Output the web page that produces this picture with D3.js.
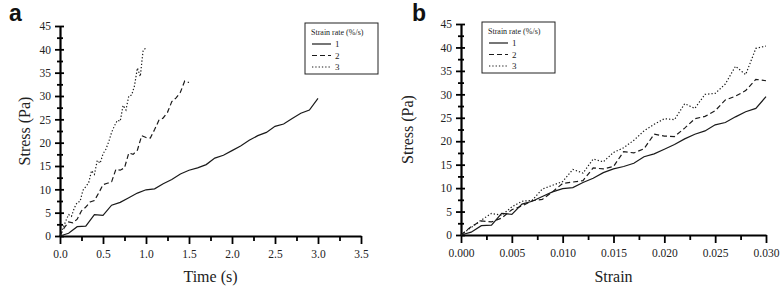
<!DOCTYPE html>
<html>
<head>
<meta charset="utf-8">
<script src="https://cdn.jsdelivr.net/npm/d3@7"></script>
<style>
	body { margin: 0; background: #fff; }
	svg { display: block; }
</style>
</head>
<body>
<svg id="chart"></svg>
<script>
// strain sampled every 0.001 (all three rates)
let strain = [0, 0.001, 0.002, 0.003, 0.004, 0.005, 0.006, 0.007, 0.008, 0.009, 0.010,
	0.011, 0.012, 0.013, 0.014, 0.015, 0.016, 0.017, 0.018, 0.019, 0.020,
	0.021, 0.022, 0.023, 0.024, 0.025, 0.026, 0.027, 0.028, 0.029, 0.030];

let stress1 = [0, 0.6, 2.0, 2.1, 4.6, 4.4, 6.6, 7.2, 8.2, 9.2, 9.9,
	10.1, 11.2, 12.1, 13.3, 14.1, 14.6, 15.3, 16.7, 17.3, 18.3,
	19.3, 20.5, 21.5, 22.2, 23.5, 24.0, 25.2, 26.3, 27.0, 29.5];
let stress2 = [0, 1.8, 3.0, 2.8, 3.6, 5.4, 6.2, 7.3, 7.6, 9.2, 11.0,
	11.3, 11.6, 14.3, 14.1, 14.6, 17.8, 17.5, 18.4, 21.5, 21.1,
	21.0, 22.8, 24.8, 25.3, 26.5, 28.8, 29.6, 30.8, 33.2, 32.9];
let stress3 = [0, 1.6, 3.2, 4.6, 4.2, 6.0, 7.2, 7.4, 9.8, 10.6, 11.4,
	14.0, 13.2, 16.2, 15.6, 17.6, 18.6, 20.2, 22.2, 23.6, 24.8,
	24.6, 28.0, 27.0, 30.0, 30.2, 32.2, 36.0, 34.2, 39.8, 40.3];

let rates = [1, 2, 3]; // %/s
let rateLabels = ['1', '2', '3'];
let dashes = ['none', '5,3', '1.3,2'];

let timeTicks = [0, 0.5, 1.0, 1.5, 2.0, 2.5, 3.0, 3.5];
let strainTicks = [0, 0.005, 0.010, 0.015, 0.020, 0.025, 0.030];
let stressTicks = [0, 5, 10, 15, 20, 25, 30, 35, 40, 45];

let w = 780;
let h = 287;
let serif = '"Liberation Serif", "DejaVu Serif", serif';

let svg = d3.select('#chart')
	.attr('width', w)
	.attr('height', h)
	.attr('font-family', serif);

function drawPanel(opt) {
	let xScale = d3.scaleLinear()
		.domain(opt.xDomain)
		.range([opt.left, opt.right]);
	let yScale = d3.scaleLinear()
		.domain([0, 45])
		.range([opt.bottom, opt.top]);

	let g = svg.append('g');

	// minor ticks (halfway between majors)
	let xMinor = d3.range(opt.xDomain[0] + opt.xStep / 2, opt.xDomain[1], opt.xStep);
	let yMinor = d3.range(2.5, 45, 5);

	g.append('g')
		.attr('transform', `translate(0,${opt.bottom})`)
		.call(d3.axisBottom(xScale).tickValues(opt.xTicks).tickSizeInner(8).tickSizeOuter(0)
			.tickPadding(6).tickFormat(d3.format(opt.xFormat)));
	g.append('g')
		.attr('transform', `translate(0,${opt.bottom})`)
		.call(d3.axisBottom(xScale).tickValues(xMinor).tickSize(5).tickFormat(''))
		.call(s => s.select('.domain').remove());

	g.append('g')
		.attr('transform', `translate(${opt.left},0)`)
		.call(d3.axisLeft(yScale).tickValues(stressTicks).tickSizeInner(5).tickSizeOuter(0).tickPadding(4));
	g.append('g')
		.attr('transform', `translate(${opt.left},0)`)
		.call(d3.axisLeft(yScale).tickValues(stressTicks).tickSize(-4).tickFormat(''))
		.call(s => s.select('.domain').remove());
	g.append('g')
		.attr('transform', `translate(${opt.left},0)`)
		.call(d3.axisLeft(yScale).tickValues(yMinor).tickSize(3).tickFormat(''))
		.call(s => s.select('.domain').remove());
	g.append('g')
		.attr('transform', `translate(${opt.left},0)`)
		.call(d3.axisLeft(yScale).tickValues(yMinor).tickSize(-3).tickFormat(''))
		.call(s => s.select('.domain').remove());

	g.selectAll('g').attr('font-family', serif).attr('font-size', 11.5);
	g.selectAll('.domain').attr('stroke', '#000').attr('stroke-width', 2.2);
	g.selectAll('.tick line').attr('stroke', '#000').attr('stroke-width', 1.8);
	g.selectAll('.tick text').attr('fill', '#222');

	// axis titles
	g.append('text')
		.attr('x', (opt.left + opt.right) / 2)
		.attr('y', 282)
		.attr('text-anchor', 'middle')
		.attr('font-size', 16)
		.attr('fill', '#222')
		.text(opt.xTitle);
	g.append('text')
		.attr('transform', `translate(${opt.yTitleX},${(opt.top + opt.bottom) / 2}) rotate(-90)`)
		.attr('text-anchor', 'middle')
		.attr('font-size', 16)
		.attr('fill', '#222')
		.text('Stress (Pa)');

	// panel letter
	g.append('text')
		.attr('x', opt.letterX)
		.attr('y', 21)
		.attr('font-family', '"Liberation Sans", Arial, sans-serif')
		.attr('font-weight', 'bold')
		.attr('font-size', 23)
		.attr('fill', '#111')
		.text(opt.letter);

	// lines
	let series = [stress1, stress2, stress3];
	let line = d3.line()
		.x(d => xScale(d[0]))
		.y(d => yScale(d[1]));
	series.forEach((s, i) => {
		let pts = strain.map((e, j) => [opt.xOf(e, rates[i]), s[j]]);
		g.append('path')
			.datum(pts)
			.attr('d', line)
			.attr('fill', 'none')
			.attr('stroke', '#1a1a1a')
			.attr('stroke-width', 1.2)
			.attr('stroke-dasharray', dashes[i]);
	});

	// legend
	let lg = g.append('g').attr('transform', `translate(${opt.legend[0]},${opt.legend[1]})`);
	lg.append('rect')
		.attr('width', 73)
		.attr('height', 51)
		.attr('fill', '#fff')
		.attr('stroke', '#222')
		.attr('stroke-width', 1);
	lg.append('text')
		.attr('x', 6)
		.attr('y', 12)
		.attr('font-size', 8)
		.attr('fill', '#222')
		.text('Strain rate (%/s)');
	rateLabels.forEach((r, i) => {
		let yy = 21 + i * 11.5;
		lg.append('line')
			.attr('x1', 7).attr('x2', 26)
			.attr('y1', yy).attr('y2', yy)
			.attr('stroke', '#1a1a1a')
			.attr('stroke-width', 1.2)
			.attr('stroke-dasharray', dashes[i]);
		lg.append('text')
			.attr('x', 30)
			.attr('y', yy + 3)
			.attr('font-size', 9)
			.attr('fill', '#222')
			.text(r);
	});
}

drawPanel({
	letter: 'a', letterX: 9,
	left: 60, right: 361, top: 26, bottom: 236,
	xDomain: [0, 3.5], xStep: 0.5, xTicks: timeTicks, xFormat: '.1f',
	xTitle: 'Time (s)', yTitleX: 30,
	xOf: (e, r) => e * 100 / r,
	legend: [305, 23]
});

drawPanel({
	letter: 'b', letterX: 412,
	left: 461, right: 766, top: 24, bottom: 235,
	xDomain: [0, 0.030], xStep: 0.005, xTicks: strainTicks, xFormat: '.3f',
	xTitle: 'Strain', yTitleX: 413,
	xOf: (e, r) => e,
	legend: [482, 22]
});
</script>
</body>
</html>
